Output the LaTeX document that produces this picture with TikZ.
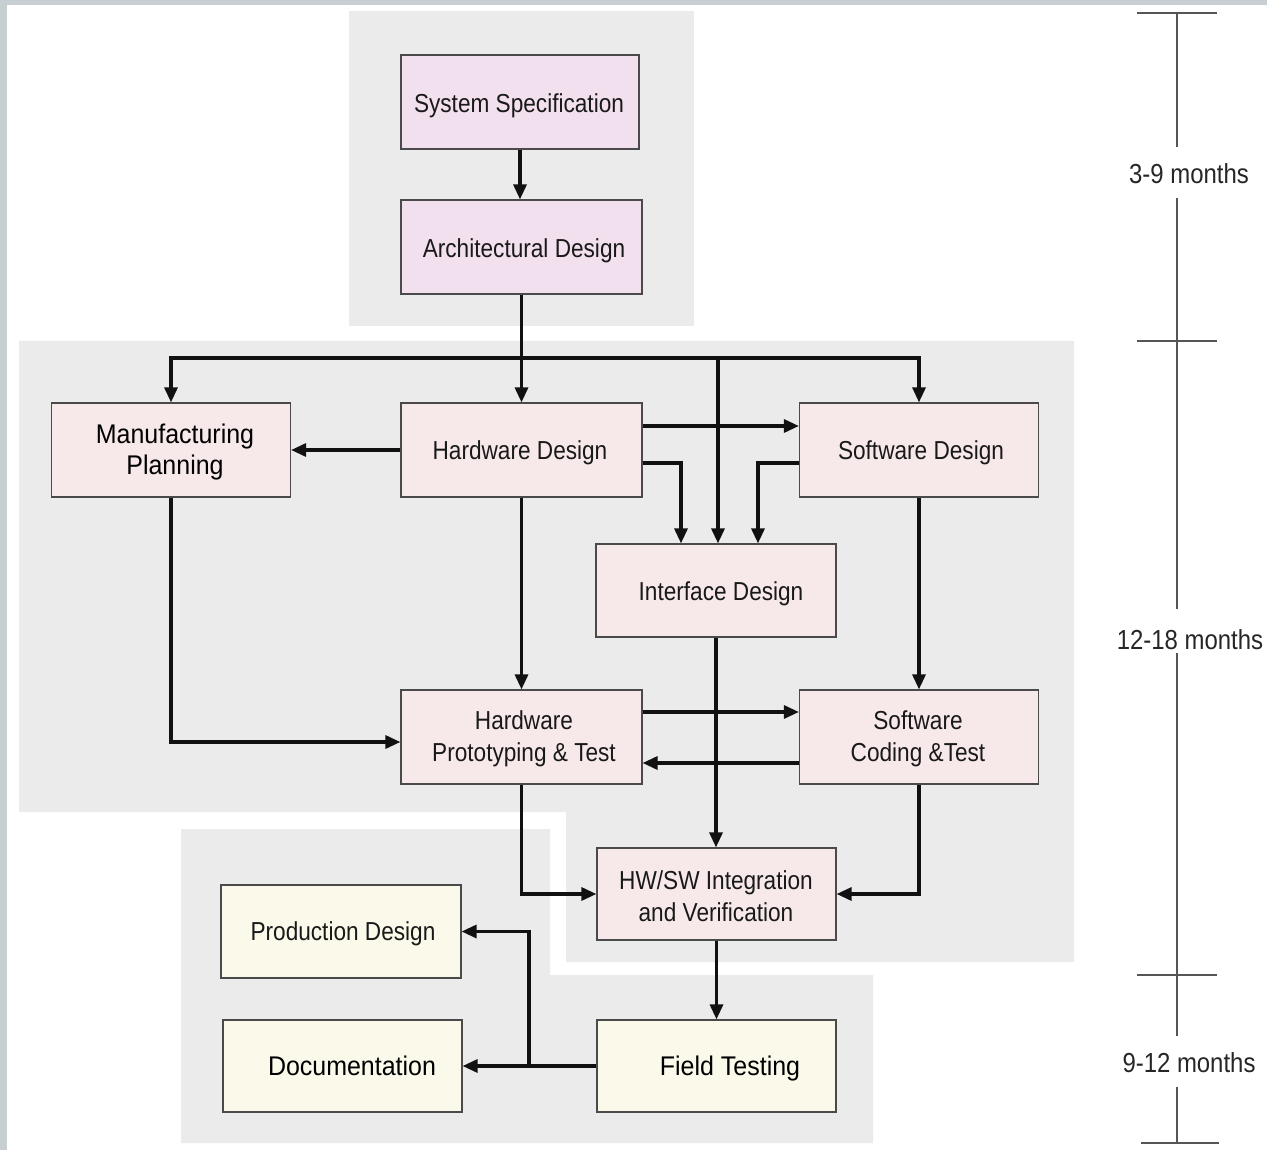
\documentclass[tikz,border=0pt]{standalone}
\usepackage{fontspec}
\setmainfont{Liberation Sans}[FakeStretch=0.87]
\newfontfamily\widefont{Liberation Sans}[FakeStretch=0.925]
\usetikzlibrary{arrows.meta}
\definecolor{frameC}{HTML}{C8CFD3}
\definecolor{regionC}{HTML}{EBEBEB}
\definecolor{topC}{HTML}{F2E0EE}
\definecolor{midC}{HTML}{F7E9E9}
\definecolor{botC}{HTML}{FBFAEA}
\definecolor{boxlineC}{HTML}{4A4A4A}
\definecolor{arrowC}{HTML}{111111}
\definecolor{scaleC}{HTML}{555555}
\tikzset{
  box/.style={draw=boxlineC, line width=1.2pt, inner sep=0pt},
  lbl/.style={inner sep=0pt, align=center, text=black!90, font={\fontsize{26}{31.5}\selectfont}},
  widelbl/.style={lbl, text=black, font={\widefont\fontsize{27}{31.5}\selectfont}},
  one/.style={text height=19pt, text depth=0pt},
  conn/.style={line width=3.2pt, draw=arrowC},
  arr/.style={conn, -{Triangle[length=15pt,width=13pt]}},
  scaleline/.style={draw=scaleC, line width=1.5pt},
  scalelbl/.style={inner sep=0pt, text=black!85, font={\fontsize{27.5}{30}\selectfont}, text height=20pt, text depth=0pt}
}
\begin{document}
\begin{tikzpicture}[x=1pt,y=-1pt]
\useasboundingbox (0,0) rectangle (1267,1150);
% frame
\fill[frameC] (0,0) rectangle (1267,1150);
\fill[white] (7,5) rectangle (1267,1150);
% phase regions
\fill[regionC] (349,11) rectangle (694,326);
\fill[regionC] (19,341) -- (1074,341) -- (1074,962) -- (566,962) -- (566,812) -- (19,812) -- cycle;
\fill[regionC] (181,829) -- (550,829) -- (550,975) -- (873,975) -- (873,1143) -- (181,1143) -- cycle;

% boxes
\node[box, fill=topC, minimum width=238pt, minimum height=94pt] (ss) at (520,102) {};
\node[box, fill=topC, minimum width=241pt, minimum height=94pt] (ad) at (521.5,247) {};
\node[box, fill=midC, minimum width=239pt, minimum height=94pt] (mp) at (171,450) {};
\node[box, fill=midC, minimum width=241pt, minimum height=94pt] (hw) at (521.5,450) {};
\node[box, fill=midC, minimum width=239pt, minimum height=94pt] (sw) at (919,450) {};
\node[box, fill=midC, minimum width=240pt, minimum height=93pt] (ifd) at (716,590.5) {};
\node[box, fill=midC, minimum width=241pt, minimum height=94pt] (hwp) at (521.5,737) {};
\node[box, fill=midC, minimum width=239pt, minimum height=94pt] (swc) at (919,737) {};
\node[box, fill=midC, minimum width=239pt, minimum height=92pt] (hs) at (716.5,894) {};
\node[box, fill=botC, minimum width=240pt, minimum height=93pt] (pd) at (341,931.5) {};
\node[box, fill=botC, minimum width=239pt, minimum height=92pt] (doc) at (342.5,1066) {};
\node[box, fill=botC, minimum width=239pt, minimum height=92pt] (ft) at (716.5,1066) {};

% texts
\node[lbl, one] (sst) at (519,103) {System Specification};
\node[lbl, one] (adt) at (524,248) {Architectural Design};
\node[widelbl] (mpt) at (175,452) {Manufacturing\\Planning};
\node[lbl, one] (hwt) at (520,450) {Hardware Design};
\node[lbl, one] (swt) at (921,450) {Software Design};
\node[lbl, one] (ifdt) at (721,591) {Interface Design};
\node[lbl] (hwpt) at (524,739) {Hardware\\Prototyping \& Test};
\node[lbl] (swct) at (918,739) {Software\\Coding \&Test};
\node[lbl] (hst) at (716,896) {HW/SW Integration\\and Verification};
\node[lbl, one] (pdt) at (343,931) {Production Design};
\node[widelbl, one] (doct) at (352,1066) {Documentation};
\node[widelbl, one] (ftt) at (730,1066) {Field Testing};

% connectors
\coordinate (busL) at (171,358);
\coordinate (busM) at (718,358);
\coordinate (busR) at (919,358);
\draw[arr] (ss.south) -- (ss.south |- ad.north);
\draw[arr] (ad.south) -- (hw.north);
\draw[conn] ([xshift=-1.6pt]busL) -- ([xshift=1.6pt]busR);
\draw[arr] (busL) -- (mp.north);
\draw[arr] (busR) -- (sw.north);
\draw[arr] (busM) -- (busM |- ifd.north);
\draw[arr] (hw.west) -- (mp.east);
\draw[arr] ([yshift=24pt]hw.east) -- ([yshift=24pt]sw.west);
\draw[arr] ([yshift=-13pt]hw.east) -| ([xshift=-35pt]ifd.north);
\draw[arr] ([yshift=-13pt]sw.west) -| ([xshift=42pt]ifd.north);
\draw[arr] (hw.south) -- (hwp.north);
\draw[arr] (sw.south) -- (swc.north);
\draw[arr] (mp.south) |- ([yshift=-5pt]hwp.west);
\draw[arr] ([yshift=25pt]hwp.east) -- ([yshift=25pt]swc.west);
\draw[arr] ([yshift=-26pt]swc.west) -- ([yshift=-26pt]hwp.east);
\draw[arr] (ifd.south) -- (ifd.south |- hs.north);
\draw[arr] (hwp.south) |- (hs.west);
\draw[arr] (swc.south) |- (hs.east);
\draw[arr] (hs.south) -- (ft.north);
\coordinate (br) at (529,1066);
\draw[arr] (ft.west) -- (doc.east);
\draw[arr] (br) |- (pd.east);

% time scale
\node[scalelbl] (t1) at (1189,174) {3-9 months};
\node[scalelbl] (t2) at (1190,639) {12-18 months};
\node[scalelbl] (t3) at (1189,1062) {9-12 months};
\draw[scaleline] (1137,13) -- (1217,13);
\draw[scaleline] (1137,341) -- (1217,341);
\draw[scaleline] (1137,975) -- (1217,975);
\draw[scaleline] (1141,1143) -- (1219,1143);
\draw[scaleline] (1177,13) -- (1177,147);
\draw[scaleline] (1177,198) -- (1177,609);
\draw[scaleline] (1177,653) -- (1177,1036);
\draw[scaleline] (1177,1087) -- (1177,1143);
\end{tikzpicture}
\end{document}
